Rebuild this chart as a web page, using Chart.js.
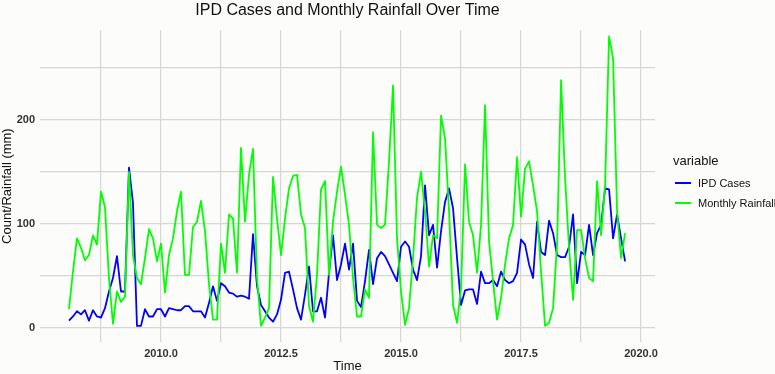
<!DOCTYPE html>
<html><head><meta charset="utf-8">
<script src="https://cdn.jsdelivr.net/npm/chart.js@4.4.1/dist/chart.umd.min.js"></script>
<style>
html,body{margin:0;padding:0;background:#fcfcfa;}
#wrap{position:relative;width:775px;height:374px;overflow:hidden;background:#fcfcfa;font-family:"Liberation Sans",Arial,sans-serif;}
canvas{position:absolute;left:0;top:0;}
.lg{position:absolute;white-space:nowrap;line-height:1;}
.key{position:absolute;height:2px;width:16px;}
</style></head><body>
<div id="wrap"><canvas id="c" width="775" height="374"></canvas><div id="legend"></div></div>
<script>
// ---- data ----
const seriesNames = ['IPD Cases', 'Monthly Rainfall'];
const seriesColors = ['#0000ff', '#00ff00'];
const firstYear = 2008, firstMonth = 2; // monthly series, Feb 2008 .. Sep 2019
const ipdCases = [
  7, 11, 16, 13, 17, 7, 17, 11, 10, 19,
  35, 48, 69, 35, 35, 154, 120, 2, 2, 18,
  11, 11, 18, 18, 11, 19, 18, 17, 17, 21,
  21, 16, 16, 16, 10, 24, 40, 26, 43, 40,
  34, 33, 30, 31, 30, 28, 90, 40, 22, 16,
  10, 6, 13, 27, 53, 54, 37, 19, 8, 32,
  59, 16, 16, 29, 10, 53, 89, 46, 61, 81,
  56, 81, 26, 20, 45, 75, 42, 67, 73, 69,
  61, 53, 45, 78, 83, 78, 56, 46, 69, 137,
  89, 99, 58, 93, 121, 134, 115, 67, 22, 36,
  37, 37, 23, 54, 43, 43, 46, 40, 54, 46,
  43, 45, 53, 85, 80, 61, 48, 102, 73, 70,
  103, 91, 70, 68, 68, 78, 109, 43, 73, 70,
  99, 70, 91, 99, 134, 133, 86, 109, 86, 64
];
const rainfall = [
  18, 54, 86, 77, 65, 70, 89, 80, 131, 116,
  48, 4, 35, 25, 30, 150, 70, 48, 42, 67,
  95, 86, 64, 81, 34, 70, 86, 112, 131, 51,
  51, 97, 102, 122, 93, 42, 8, 8, 81, 53,
  109, 105, 53, 173, 102, 147, 172, 48, 2, 10,
  19, 145, 105, 70, 105, 134, 146, 147, 109, 96,
  21, 6, 51, 133, 141, 51, 102, 131, 155, 128,
  99, 48, 11, 11, 37, 29, 188, 99, 96, 99,
  160, 233, 86, 35, 3, 19, 67, 125, 150, 112,
  59, 89, 86, 204, 182, 112, 22, 5, 38, 157,
  102, 89, 53, 99, 214, 83, 45, 8, 29, 61,
  86, 99, 164, 107, 153, 160, 137, 112, 54, 2,
  5, 19, 80, 238, 144, 77, 27, 94, 94, 67,
  48, 45, 141, 89, 137, 280, 259, 112, 67, 91
];
const xTicks = [2008.75, 2010, 2011.25, 2012.5, 2013.75, 2015, 2016.25, 2017.5, 2018.75, 2020];
const xTickLabels = ['', '2010.0', '', '2012.5', '', '2015.0', '', '2017.5', '', '2020.0'];
const yTicks = [0, 50, 100, 150, 200, 250];
const yTickLabels = ['0', '', '100', '', '200', ''];

// ---- build ----
const times = ipdCases.map((_, i) => firstYear + (firstMonth - 1 + i) / 12);
const toPts = arr => arr.map((v, i) => ({x: times[i], y: v}));
const FONT = '"Liberation Sans", Arial, sans-serif';
const gridColor = '#d6d6d6';

new Chart(document.getElementById('c'), {
  type: 'line',
  data: {
    datasets: [
      {label: seriesNames[0], data: toPts(ipdCases), borderColor: seriesColors[0], borderWidth: 1.8, pointRadius: 0, tension: 0, order: 2, borderJoinStyle: 'round'},
      {label: seriesNames[1], data: toPts(rainfall), borderColor: seriesColors[1], borderWidth: 1.8, pointRadius: 0, tension: 0, order: 1, borderJoinStyle: 'round'}
    ]
  },
  options: {
    responsive: false,
    devicePixelRatio: 1,
    animation: false,
    events: [],
    layout: {padding: {left: 0, right: 120, top: 0, bottom: 0}},
    plugins: {
      legend: {display: false},
      tooltip: {enabled: false},
      title: {
        display: true, fullSize: false,
        text: 'IPD Cases and Monthly Rainfall Over Time',
        color: '#111', font: {family: FONT, size: 16, weight: 'normal'},
        padding: {top: 1, bottom: 10}
      }
    },
    scales: {
      x: {
        type: 'linear', min: 2007.48, max: 2020.29,
        afterBuildTicks: s => { s.ticks = xTicks.map(v => ({value: v})); },
        afterFit: s => { s.height = 32; },
        ticks: {
          autoSkip: false, maxRotation: 0, padding: 5, color: '#333',
          font: {family: FONT, size: 11, weight: 'bold'},
          callback: (v) => { const k = xTicks.indexOf(v); return k >= 0 ? xTickLabels[k] : ''; }
        },
        grid: {color: gridColor, lineWidth: 1.2, drawTicks: false},
        border: {display: false},
        title: {display: true, text: 'Time', color: '#111', font: {family: FONT, size: 13}, padding: {top: 0, bottom: 0}}
      },
      y: {
        type: 'linear', min: -13.5, max: 286,
        afterBuildTicks: s => { s.ticks = yTicks.map(v => ({value: v})); },
        afterFit: s => { s.width = 40; },
        ticks: {
          autoSkip: false, padding: 5, color: '#333',
          font: {family: FONT, size: 11, weight: 'bold'},
          callback: (v) => { const k = yTicks.indexOf(v); return k >= 0 ? yTickLabels[k] : ''; }
        },
        grid: {color: gridColor, lineWidth: 1.2, drawTicks: false},
        border: {display: false},
        title: {display: true, text: 'Count/Rainfall (mm)', color: '#111', font: {family: FONT, size: 13}, padding: {top: 0, bottom: 0}}
      }
    }
  }
});

// ---- legend (HTML) ----
const lg = document.getElementById('legend');
let html = '<div class="lg" style="left:673px;top:154px;font-size:13px;color:#111;">variable</div>';
seriesNames.forEach((n, i) => {
  const cy = 183 + i * 19.5;
  html += `<div class="key" style="left:675px;top:${cy - 1}px;background:${seriesColors[i]}"></div>`;
  html += `<div class="lg" style="left:698px;top:${cy - 5}px;font-size:11px;font-weight:normal;color:#111">${n}</div>`;
});
lg.innerHTML = html;
</script>
</body></html>
